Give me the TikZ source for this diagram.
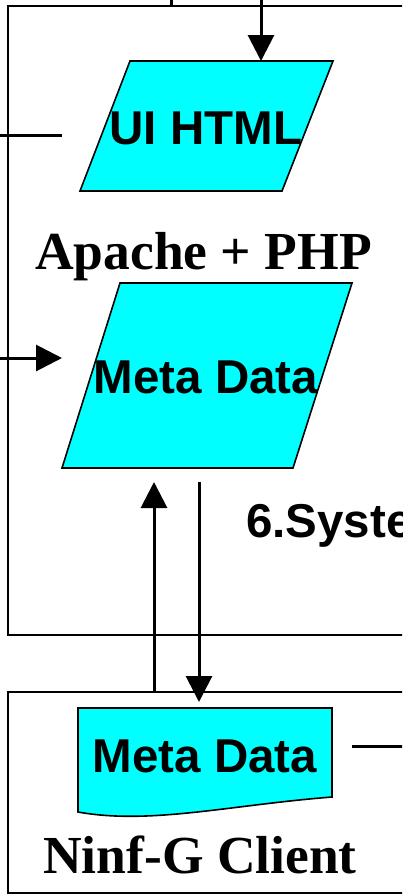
\documentclass[tikz,border=0pt]{standalone}
\usepackage{fontspec}
\setmainfont{Liberation Serif}
\setsansfont{Liberation Sans}
\usetikzlibrary{arrows.meta}
\definecolor{dataCyan}{RGB}{0,255,255}
\begin{document}
\begin{tikzpicture}[x=1pt,y=-1pt,
  frame/.style={draw=black,line width=1.5pt},
  dataform/.style={draw=black,line width=1.6pt,fill=dataCyan,line join=miter},
  conn/.style={line width=3pt},
  arr/.style={conn,-{Triangle[length=26pt,width=26pt]}},
  sanslabel/.style={font=\sffamily\bfseries\fontsize{47.5}{50}\selectfont,inner sep=0pt},
  seriflabel/.style={font=\rmfamily\bfseries\fontsize{53.5}{56}\selectfont,inner sep=0pt}
]
\useasboundingbox (0,0) rectangle (402,895);
\clip (0,0) rectangle (402,895);

% frames (cut by the right edge)
\draw[frame] (420,6) -- (8,6) -- (8,635) -- (420,635);
\draw[frame] (420,692) -- (8,692) -- (8,893) -- (420,893);

% data shapes
\draw[dataform] (130,61) -- (333,61) -- (282,191) -- (80,191) -- cycle;
\draw[dataform] (120,283) -- (352,283) -- (293,468) -- (62,468) -- cycle;
\draw[dataform] (78,708) -- (332,708) -- (332,797)
   .. controls (230,805) and (150,825) .. (78,812) -- cycle;

% labels
\node[sanslabel,anchor=base] (ui) at (206,144) {UI HTML};
\node[sanslabel,anchor=base] (md1) at (206,393) {Meta Data};
\node[sanslabel,anchor=base] (md2) at (205,772) {Meta Data};
\node[seriflabel,anchor=base west] (apache) at (35,269) {Apache + PHP};
\node[seriflabel,anchor=base west] (ninf) at (43,873) {Ninf-G Client};
\node[sanslabel,anchor=base west] (sys) at (246,537) {6.System};

% connector end points
\coordinate (topsrc) at (261,-2);
\coordinate (uitop) at (261,61);
\coordinate (stubtop) at (171,-2);
\coordinate (stubbot) at (171,6);
\coordinate (uileftsrc) at (-2,135);
\coordinate (uileft) at (62,135);
\coordinate (mdleftsrc) at (-2,358);
\coordinate (mdleft) at (62,358);
\coordinate (upsrc) at (154,692);
\coordinate (uptip) at (154,482);
\coordinate (downsrc) at (199,482);
\coordinate (downtip) at (199,702);
\coordinate (docright) at (352,746);
\coordinate (docrightend) at (406,746);

% connectors
\draw[arr] (topsrc) -- (uitop);
\draw[conn] (stubtop) -- (stubbot);
\draw[conn] (uileftsrc) -- (uileft);
\draw[arr] (mdleftsrc) -- (mdleft);
\draw[arr] (upsrc) -- (uptip);
\draw[arr] (downsrc) -- (downtip);
\draw[conn] (docright) -- (docrightend);
\end{tikzpicture}
\end{document}
